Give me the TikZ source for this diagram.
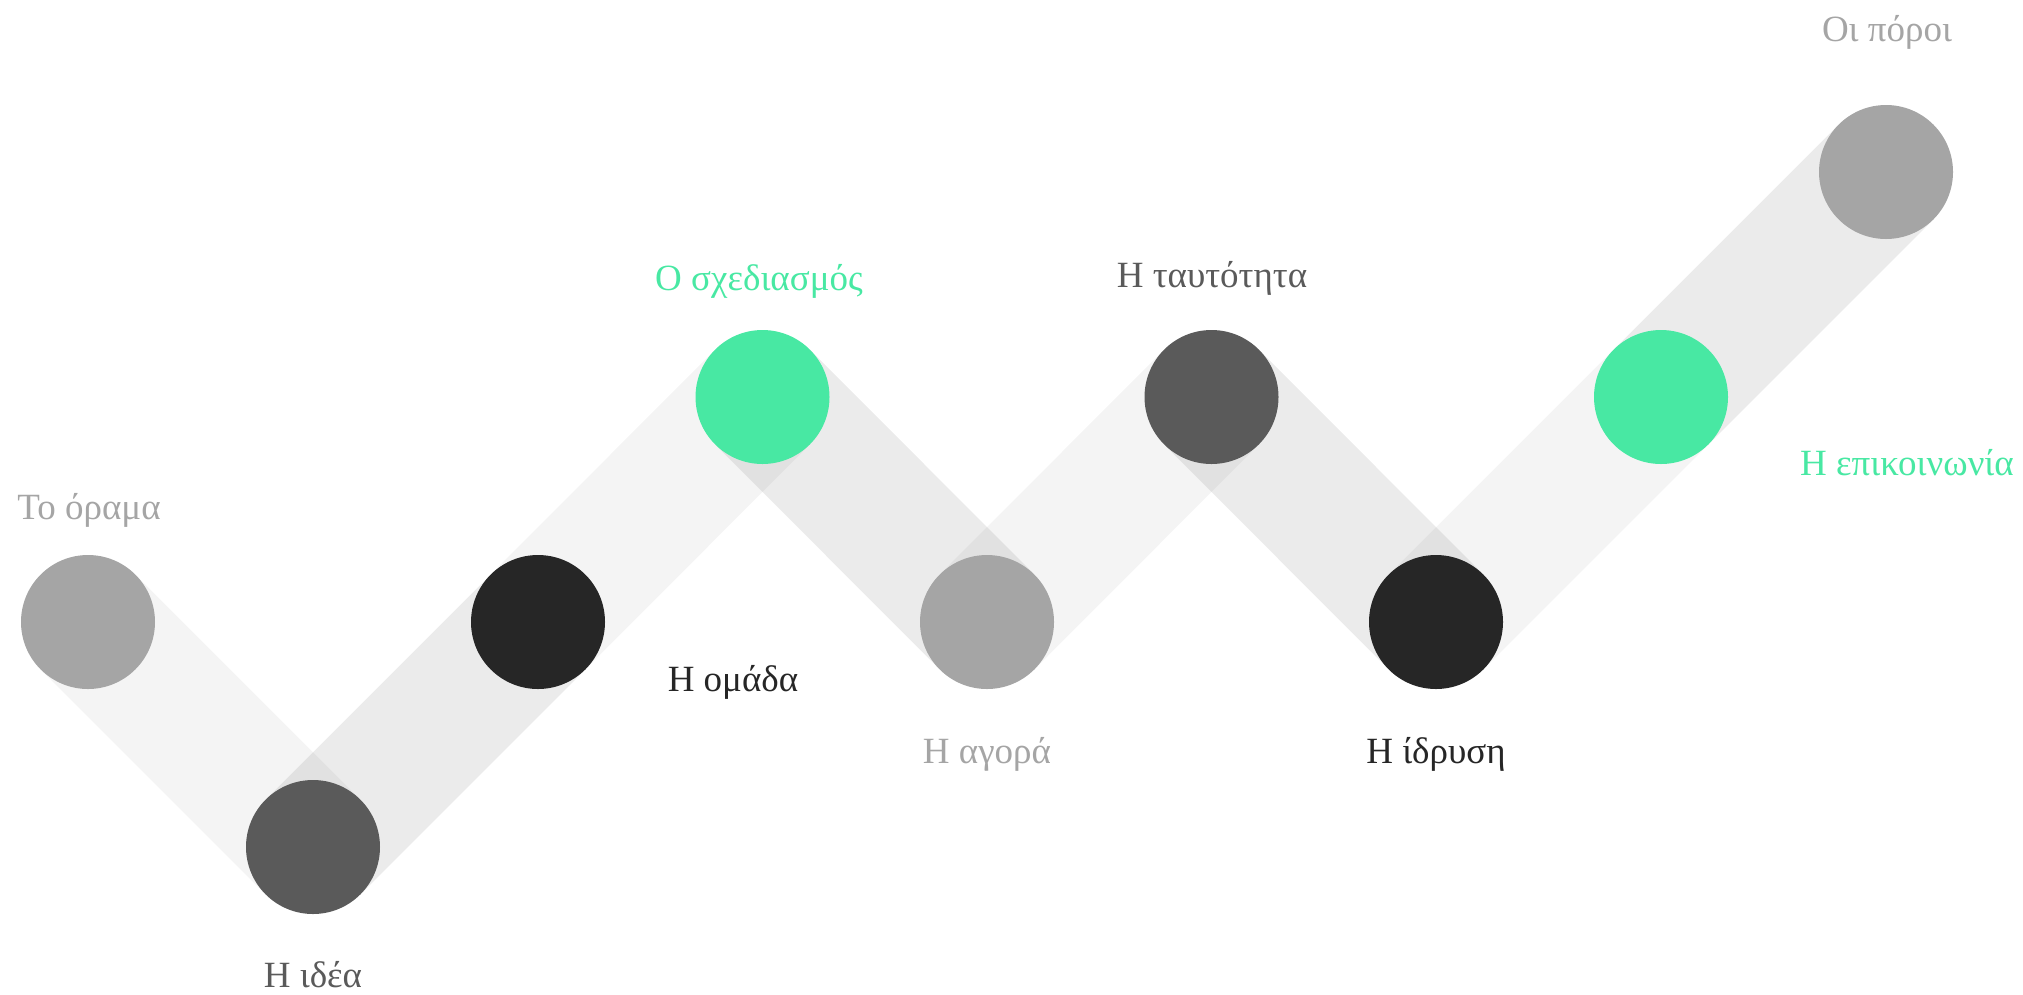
\documentclass[tikz,border=0pt]{standalone}
\usepackage{fontspec}
\setmainfont{Liberation Serif}
\definecolor{cgray}{HTML}{A5A5A5}
\definecolor{cdark}{HTML}{5A5A5A}
\definecolor{cblack}{HTML}{262626}
\definecolor{cgreen}{HTML}{48E8A3}
\tikzset{
  dot/.style={circle, inner sep=0pt, minimum size=134pt, fill=#1},
  bandlight/.style={line width=134pt, line cap=butt, draw=black, draw opacity=0.045},
  banddark/.style={line width=134pt, line cap=butt, draw=black, draw opacity=0.08},
  lbl/.style={font=\fontsize{37}{41}\selectfont, text=#1, inner sep=0pt, anchor=center}
}
\begin{document}
\begin{tikzpicture}[x=1pt,y=-1pt]
\useasboundingbox (0,0) rectangle (2023,994);
% circle centres
\coordinate (p1) at (88,622);
\coordinate (p2) at (313,847);
\coordinate (p3) at (538,622);
\coordinate (p4) at (762.5,397);
\coordinate (p5) at (987,622);
\coordinate (p6) at (1211.5,397);
\coordinate (p7) at (1436,622);
\coordinate (p8) at (1661,397);
\coordinate (p9) at (1886,172);
% bands
\draw[bandlight] (p1) -- (p2);
\draw[banddark] (p2) -- (p3);
\draw[bandlight] (p3) -- (p4);
\draw[banddark] (p4) -- (p5);
\draw[bandlight] (p5) -- (p6);
\draw[banddark] (p6) -- (p7);
\draw[bandlight] (p7) -- (p8);
\draw[banddark] (p8) -- (p9);
% circles
\node[dot=cgray] (c1) at (p1) {};
\node[dot=cdark] (c2) at (p2) {};
\node[dot=cblack] (c3) at (p3) {};
\node[dot=cgreen] (c4) at (p4) {};
\node[dot=cgray] (c5) at (p5) {};
\node[dot=cdark] (c6) at (p6) {};
\node[dot=cblack] (c7) at (p7) {};
\node[dot=cgreen] (c8) at (p8) {};
\node[dot=cgray] (c9) at (p9) {};
% labels
\node[lbl=cgray] (l1) at (89,510) {Το όραμα};
\node[lbl=cdark] (l2) at (313,975) {Η ιδέα};
\node[lbl=cblack] (l3) at (733,682) {Η ομάδα};
\node[lbl=cgreen] (l4) at (759,281) {Ο σχεδιασμός};
\node[lbl=cgray] (l5) at (987,754) {Η αγορά};
\node[lbl=cdark] (l6) at (1212,278) {Η ταυτότητα};
\node[lbl=cblack] (l7) at (1436,754) {Η ίδρυση};
\node[lbl=cgreen] (l8) at (1907,463) {Η επικοινωνία};
\node[lbl=cgray] (l9) at (1887,32) {Οι πόροι};
\end{tikzpicture}
\end{document}
